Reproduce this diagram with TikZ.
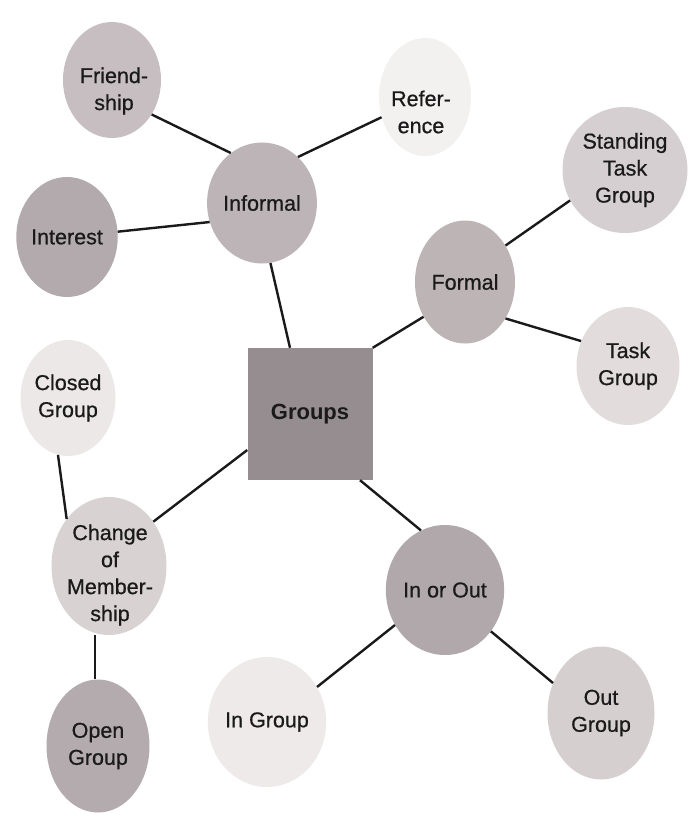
\documentclass[tikz,border=0pt]{standalone}
\usepackage{fontspec}
\setmainfont{Liberation Sans}
\newfontfamily\labfont{Liberation Sans}[FakeBold=0.7]
\usetikzlibrary{shapes.geometric}
\definecolor{cFriend}{HTML}{C6BEC0}
\definecolor{cRef}{HTML}{F3F0F0}
\definecolor{cInformal}{HTML}{BCB4B6}
\definecolor{cInterest}{HTML}{B2AAAC}
\definecolor{cStanding}{HTML}{D6CFD1}
\definecolor{cFormal}{HTML}{BDB4B6}
\definecolor{cTask}{HTML}{E2DCDD}
\definecolor{cClosed}{HTML}{EDE8E8}
\definecolor{cGroups}{HTML}{958D8F}
\definecolor{cChange}{HTML}{D9D2D3}
\definecolor{cInOut}{HTML}{B0A8AA}
\definecolor{cOpen}{HTML}{B3ABAD}
\definecolor{cInGroup}{HTML}{EEEAEA}
\definecolor{cOutGroup}{HTML}{D6CFD0}
\definecolor{ink}{HTML}{1A1A1A}
\tikzset{
  blob/.style={ellipse, inner sep=0pt, align=center, text=ink,
    font=\labfont\fontsize{21.5}{27}\selectfont},
  txt/.style={inner sep=0pt, align=center, text=ink,
    font=\labfont\fontsize{21.5}{27}\selectfont},
  hub/.style={rectangle, inner sep=0pt, text=ink,
    font=\bfseries\fontsize{22}{27}\selectfont},
  link/.style={draw=ink, line width=2.4pt}
}
\begin{document}
\begin{tikzpicture}[x=1pt,y=-1pt]
\useasboundingbox[fill=white] (0,0) rectangle (691,821);
\node[blob, fill=cFriend, minimum width=98pt, minimum height=116pt] (friend) at (112,80) {};
\node[txt] (friendT) at (114,91) {Friend-\\ship};
\node[blob, fill=cRef, minimum width=92pt, minimum height=118pt] (ref) at (425,97) {};
\node[txt] (refT) at (421,112) {Refer-\\ence};
\node[blob, fill=cInformal, minimum width=99pt, minimum height=121pt] (informal) at (262,203) {Informal};
\node[blob, fill=cInterest, minimum width=101pt, minimum height=120pt] (interest) at (67,237) {Interest};
\node[blob, fill=cStanding, minimum width=125pt, minimum height=126pt] (standing) at (625,170) {Standing\\Task\\Group};
\node[blob, fill=cFormal, minimum width=100pt, minimum height=123pt] (formal) at (465,282) {Formal};
\node[blob, fill=cTask, minimum width=103pt, minimum height=118pt] (task) at (628,366) {Task\\Group};
\node[blob, fill=cClosed, minimum width=95pt, minimum height=116pt] (closed) at (68,398) {Closed\\Group};
\node[hub, fill=cGroups, minimum width=125pt, minimum height=132pt] (groups) at (310,414) {Groups};
\node[blob, fill=cChange, minimum width=115pt, minimum height=138pt] (change) at (109,566) {};
\node[txt] (changeT) at (110,575) {Change\\of\\Member-\\ship};
\node[blob, fill=cInOut, minimum width=105pt, minimum height=130pt] (inout) at (445,590) {In or Out};
\node[blob, fill=cOpen, minimum width=103pt, minimum height=133pt] (open) at (98,746) {Open\\Group};
\node[blob, fill=cInGroup, minimum width=100pt, minimum height=130pt] (ingroup) at (267,722) {In Group};
\node[blob, fill=cOutGroup, minimum width=107pt, minimum height=133pt] (outgroup) at (601,713) {Out\\Group};
\draw[link] (friend.319) -- (informal.122);
\draw[link] (ref.205) -- (informal.52);
\draw[link] (interest) -- (informal.200);
\draw[link] (informal.278) -- ([xshift=-20pt]groups.north);
\draw[link] (formal.220) -- (groups.north east);
\draw[link] (formal.42) -- (standing.209);
\draw[link] (formal.318) -- (task.152);
\draw[link] (closed.260) -- (change.132);
\draw[link] ([yshift=-36pt]groups.west) -- (change.45);
\draw[link] ([xshift=50pt]groups.south) -- (inout.112);
\draw[link] ([xshift=-3pt]open.north) -- ([xshift=-3pt]open.north |- change.south);
\draw[link] (inout.215) -- (ingroup.35);
\draw[link] (inout.318) -- (outgroup.148);
\end{tikzpicture}
\end{document}
